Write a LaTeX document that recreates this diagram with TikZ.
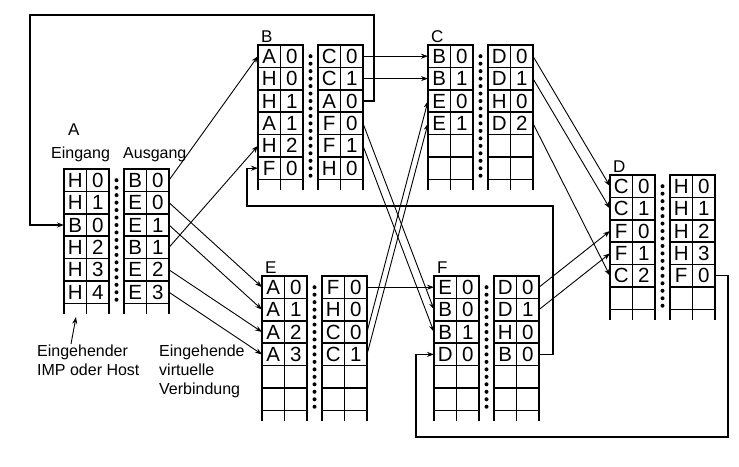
\documentclass[tikz,border=0pt]{standalone}
\usepackage{fontspec}
\setmainfont{Liberation Sans}
\usetikzlibrary{arrows.meta,positioning}
\tikzset{
  cell/.style={
    draw,
    line width=1.5pt,
    outer sep=0pt,
    inner sep=0pt,
    minimum width=22.5pt,
    minimum height=22.4pt,
    font=\fontsize{20.5}{20.5}\selectfont
  },
  tabline/.style={line width=1.5pt},
  conn/.style={->, line width=0.9pt},
  loopline/.style={->, line width=1.2pt},
  tablabel/.style={anchor=base west, inner sep=0pt, font=\fontsize{17}{17}\selectfont},
  note/.style={inner sep=0pt, align=left, font=\fontsize{16}{19}\selectfont}
}
% one switching table: name, left x, top y, incoming rows, outgoing rows
\newcommand{\vctab}[5]{%
  \foreach \a/\b [count=\i] in {#4} {
    \node[cell] (#1i\i a) at ({#2+11.25},{#3+(\i-0.5)*22.4}) {\a};
    \node[cell, right=0pt of #1i\i a] (#1i\i b) {\b};
  }
  \foreach \a/\b [count=\i] in {#5} {
    \node[cell] (#1o\i a) at ({#2+71.25},{#3+(\i-0.5)*22.4}) {\a};
    \node[cell, right=0pt of #1o\i a] (#1o\i b) {\b};
  }
  \foreach \c in {#1i6a.south west,#1i6a.south east,#1i6b.south east,#1o6a.south west,#1o6a.south east,#1o6b.south east}
    \draw[tabline] (\c) -- ++(0,11);
  \foreach \k in {0,...,16}
    \fill ({#2+52.5},{#3+11.2+\k*7.47}) circle (2pt);
}
\begin{document}
\begin{tikzpicture}[x=1pt, y=-1pt, >={Stealth[length=7pt,width=5pt]}]
    \useasboundingbox (0,0) rectangle (739,466);

    \vctab{A}{64}{169}{H/0,H/1,B/0,H/2,H/3,H/4}{B/0,E/0,E/1,B/1,E/2,E/3}
    \vctab{B}{258}{45}{A/0,H/0,H/1,A/1,H/2,F/0}{C/0,C/1,A/0,F/0,F/1,H/0}
    \vctab{C}{428}{45}{B/0,B/1,E/0,E/1,{}/{},{}/{}}{D/0,D/1,H/0,D/2,{}/{},{}/{}}
    \vctab{D}{610}{175}{C/0,C/1,F/0,F/1,C/2,{}/{}}{H/0,H/1,H/2,H/3,F/0,{}/{}}
    \vctab{E}{262}{276}{A/0,A/1,A/2,A/3,{}/{},{}/{}}{F/0,H/0,C/0,C/1,{}/{},{}/{}}
    \vctab{F}{434}{276}{E/0,B/0,B/1,D/0,{}/{},{}/{}}{D/0,D/1,H/0,B/0,{}/{},{}/{}}

    % labels
    \node[tablabel] (labA) at (68,135) {A};
    \node[tablabel] (inA) at (51,158) {\fontsize{16}{16}\selectfont Eingang};
    \node[tablabel] (outA) at (123,158) {\fontsize{16}{16}\selectfont Ausgang};
    \node[tablabel] (labB) at ([shift={(3,-3)}]Bi1a.north west) {B};
    \node[tablabel] (labC) at ([shift={(3,-3)}]Ci1a.north west) {C};
    \node[tablabel] (labD) at ([shift={(3,-3)}]Di1a.north west) {D};
    \node[tablabel] (labE) at ([shift={(3,-3)}]Ei1a.north west) {E};
    \node[tablabel] (labF) at ([shift={(3,-3)}]Fi1a.north west) {F};
    \node[note, anchor=north west] (hostnote) at (37,345) {Eingehender\\IMP oder Host};
    \node[note, anchor=north west] (vcnote) at (159,345) {Eingehende\\virtuelle\\Verbindung};

    \coordinate (hosttail) at (71,344);
    \coordinate (hosthead) at (76,317);
    \draw[conn] (hosttail) -- (hosthead);

    % virtual circuits
    \path[conn]
    (Ao1b.east) edge (Bi1a.west)
    (Ao2b.east) edge (Ei1a.west)
    (Ao3b.east) edge (Ei2a.west)
    (Ao4b.east) edge (Bi5a.west)
    (Ao5b.east) edge (Ei3a.west)
    (Ao6b.east) edge (Ei4a.west)
    (Bo1b.east) edge (Ci1a.west)
    (Bo2b.east) edge (Ci2a.west)
    (Bo4b.east) edge (Fi2a.west)
    (Bo5b.east) edge (Fi3a.west)
    (Eo1b.east) edge (Fi1a.west)
    (Eo3b.east) edge (Ci3a.west)
    (Eo4b.east) edge (Ci4a.west)
    (Co1b.east) edge (Di1a.west)
    (Co2b.east) edge (Di2a.west)
    (Co4b.east) edge (Di5a.west)
    (Fo1b.east) edge (Di3a.west)
    (Fo2b.east) edge (Di4a.west);

    % routes around the tables
    \coordinate (topR) at (374,15);
    \coordinate (topL) at (30,15);
    \draw[loopline] (Bo3b.east) -| (topR) -- (topL) |- (Ai3a.west);
    \coordinate (midR) at (553,206);
    \coordinate (midL) at (247,206);
    \draw[loopline] (Fo4b.east) -| (midR) -- (midL) |- (Bi6a.west);
    \coordinate (lowR) at (728,437);
    \coordinate (lowL) at (416,437);
    \draw[loopline] (Do5b.east) -| (lowR) -- (lowL) |- (Fi4a.west);
\end{tikzpicture}
\end{document}
